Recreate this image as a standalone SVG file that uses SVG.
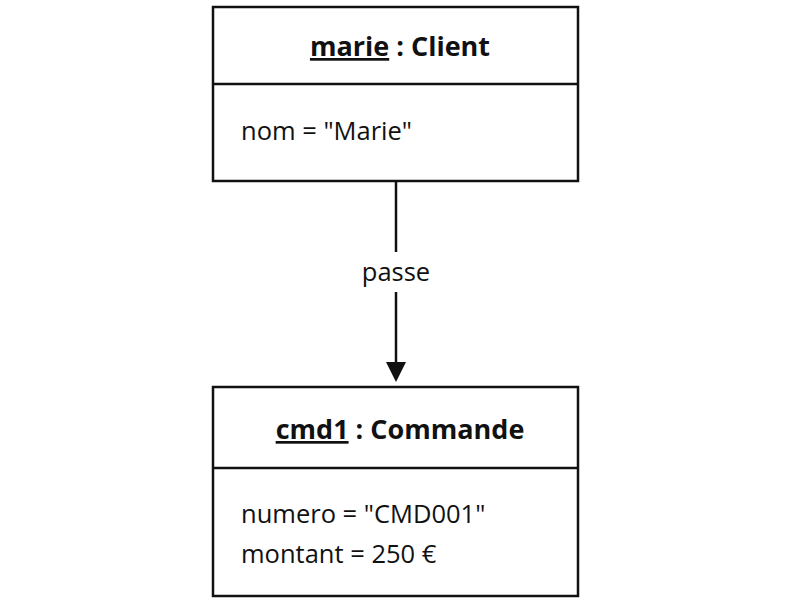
<svg xmlns="http://www.w3.org/2000/svg" width="800" height="603" viewBox="0 0 800 603">
<style>
.box{fill:#fff;stroke:#111;stroke-width:2.5}
.div{stroke:#111;stroke-width:2.5}
.title{font-family:"Open Sans","DejaVu Sans",sans-serif;font-size:27px;font-weight:bold;fill:#111;text-anchor:middle}
.attr{font-family:"Open Sans","DejaVu Sans",sans-serif;font-size:25.5px;fill:#111}
.lbl{font-family:"Open Sans","DejaVu Sans",sans-serif;font-size:25.5px;fill:#111;text-anchor:middle}
.edge{stroke:#111;stroke-width:2.5;fill:none}
</style>
<rect width="800" height="603" fill="#fff"/>
<g id="marie">
<rect class="box" x="213" y="7" width="365" height="174"/>
<line class="div" x1="213" y1="84" x2="578" y2="84"/>
<text class="title" x="400" y="56"><tspan text-decoration="underline">marie</tspan> : Client</text>
<text class="attr" x="241" y="140">nom = "Marie"</text>
</g>
<g id="cmd1">
<rect class="box" x="213" y="387" width="365" height="209"/>
<line class="div" x1="213" y1="468" x2="578" y2="468"/>
<text class="title" x="400" y="439"><tspan text-decoration="underline">cmd1</tspan> : Commande</text>
<text class="attr" x="241" y="523">numero = "CMD001"</text>
<text class="attr" x="241" y="563">montant = 250 €</text>
</g>
<g id="connectors">
<line class="edge" x1="396" y1="181" x2="396" y2="252"/>
<line class="edge" x1="396" y1="292" x2="396" y2="362"/>
<path d="M386,362 L406,362 L396,382 z" fill="#111"/>
<text class="lbl" x="396" y="281">passe</text>
</g>
</svg>
